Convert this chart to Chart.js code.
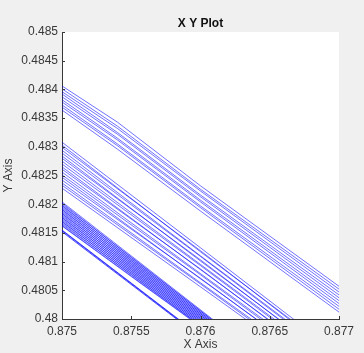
<!DOCTYPE html>
<html>
<head>
<meta charset="utf-8">
<script src="https://cdn.jsdelivr.net/npm/chart.js@4.4.0/dist/chart.umd.min.js"></script>
<style>
  html, body { margin: 0; padding: 0; background: #f0f0f0; }
</style>
</head>
<body>
<canvas id="plot" width="364" height="353"></canvas>
<script>
// tick labels
const xTicks = [0.875, 0.8755, 0.876, 0.8765, 0.877];
const xTickLabels = ['0.875', '0.8755', '0.876', '0.8765', '0.877'];
const yTicks = [0.48, 0.4805, 0.481, 0.4815, 0.482, 0.4825, 0.483, 0.4835, 0.484, 0.4845, 0.485];
const yTickLabels = ['0.48', '0.4805', '0.481', '0.4815', '0.482', '0.4825', '0.483', '0.4835', '0.484', '0.4845', '0.485'];

// upper bundle (10 lines), y at each x
const groupAX = [0.875, 0.8754, 0.876, 0.877];
const groupAStart = [0.48406, 0.48401, 0.48396, 0.48392, 0.48387, 0.48382, 0.48378, 0.48373, 0.48369, 0.48364];
const groupABend = [0.48343, 0.48336, 0.48332, 0.48325, 0.48322, 0.48315, 0.48312, 0.48305, 0.48302, 0.48296];
const groupAMid = [0.48232, 0.48226, 0.48223, 0.48216, 0.48213, 0.48207, 0.48204, 0.48197, 0.48194, 0.48188];
const groupAEnd = [0.48057, 0.48052, 0.48047, 0.48042, 0.48037, 0.48032, 0.48027, 0.48022, 0.48017, 0.48012];

// middle bundle (18 lines)
const groupBX = [0.875, 0.876, 0.877];
const groupBStart = [0.48308, 0.48303, 0.48299, 0.48294, 0.48289, 0.48284, 0.48280, 0.48275, 0.48270,
                     0.48265, 0.48261, 0.48256, 0.48251, 0.48247, 0.48242, 0.48237, 0.48233, 0.48228];
const groupBMid = [0.48124, 0.48117, 0.48119, 0.48110, 0.48109, 0.48101, 0.48103, 0.48095, 0.48093,
                   0.48086, 0.48087, 0.48079, 0.48077, 0.48070, 0.48071, 0.48063, 0.48061, 0.48056];
const groupBEnd = [0.47939, 0.47936, 0.47932, 0.47929, 0.47926, 0.47922, 0.47919, 0.47916, 0.47913,
                   0.47909, 0.47906, 0.47903, 0.47899, 0.47896, 0.47893, 0.47890, 0.47886, 0.47883];

// lower dense bundle (25 lines)
const groupCX = [0.875, 0.8755, 0.8765];
const groupCStart = [0.48204, 0.48202, 0.48200, 0.48198, 0.48197, 0.48195, 0.48193, 0.48191, 0.48190,
                     0.48188, 0.48186, 0.48184, 0.48183, 0.48181, 0.48179, 0.48177, 0.48176, 0.48174,
                     0.48172, 0.48170, 0.48169, 0.48167, 0.48165, 0.48163, 0.48162];
const groupCMid = [0.48110, 0.48107, 0.48108, 0.48104, 0.48105, 0.48101, 0.48102, 0.48098, 0.48099,
                   0.48095, 0.48096, 0.48092, 0.48093, 0.48089, 0.48090, 0.48086, 0.48087, 0.48083,
                   0.48084, 0.48080, 0.48081, 0.48077, 0.48078, 0.48075, 0.48074];
const groupCEnd = [0.47922, 0.47921, 0.47920, 0.47919, 0.47918, 0.47917, 0.47916, 0.47915, 0.47914,
                   0.47913, 0.47912, 0.47911, 0.47910, 0.47909, 0.47908, 0.47907, 0.47906, 0.47905,
                   0.47904, 0.47903, 0.47902, 0.47901, 0.47900, 0.47900, 0.47899];

// bottom heavy line (overlapping traces)
const thickX = [0.875, 0.8765];
const thickStart = [0.48155, 0.48154, 0.48152];
const thickEnd = [0.47878, 0.47877, 0.47876];

const axisColor = '#383838';
const fontFamily = '"Liberation Sans", Helvetica, Arial, sans-serif';

function bundle(xs, cols, width) {
  return cols[0].map((_, i) => ({
    data: xs.map((x, k) => ({ x: x, y: cols[k][i] })),
    borderColor: 'rgba(0,0,255,0.7)',
    borderWidth: width,
    pointRadius: 0,
    fill: false
  }));
}

const datasets = [].concat(
  bundle(groupAX, [groupAStart, groupABend, groupAMid, groupAEnd], 0.8),
  bundle(groupBX, [groupBStart, groupBMid, groupBEnd], 0.8),
  bundle(groupCX, [groupCStart, groupCMid, groupCEnd], 0.8),
  bundle(thickX, [thickStart, thickEnd], 1)
);

const frame = {
  id: 'frame',
  beforeDraw(chart) {
    const ctx = chart.ctx, a = chart.chartArea;
    ctx.save();
    ctx.fillStyle = '#f0f0f0';
    ctx.fillRect(0, 0, chart.width, chart.height);
    ctx.fillStyle = '#ffffff';
    ctx.fillRect(a.left, a.top, a.right - a.left, a.bottom - a.top);
    ctx.restore();
  },
  afterDraw(chart) {
    const ctx = chart.ctx, a = chart.chartArea;
    const xs = chart.scales.x, ys = chart.scales.y;
    ctx.save();
    ctx.strokeStyle = axisColor;
    ctx.lineWidth = 1;
    ctx.beginPath();
    xTicks.forEach(v => {
      const p = Math.round(xs.getPixelForValue(v)) + 0.5;
      ctx.moveTo(p, a.bottom);
      ctx.lineTo(p, a.bottom - 3);
    });
    yTicks.forEach(v => {
      const p = Math.round(ys.getPixelForValue(v)) + 0.5;
      ctx.moveTo(a.left, p);
      ctx.lineTo(a.left + 3, p);
    });
    ctx.stroke();
    // title over the plot box
    ctx.fillStyle = '#111';
    ctx.font = 'bold 12px ' + fontFamily;
    ctx.textAlign = 'center';
    ctx.textBaseline = 'middle';
    ctx.fillText('X Y Plot', (a.left + a.right) / 2, 24);
    ctx.restore();
  }
};

new Chart(document.getElementById('plot'), {
  type: 'line',
  data: { datasets: datasets },
  options: {
    responsive: false,
    animation: false,
    layout: { padding: { top: 32, right: 25, left: 0, bottom: 0 } },
    plugins: { legend: { display: false }, tooltip: { enabled: false } },
    scales: {
      x: {
        type: 'linear',
        min: 0.875,
        max: 0.877,
        afterBuildTicks: s => { s.ticks = xTicks.map(v => ({ value: v })); },
        afterFit: s => { s.height = 34; },
        grid: { display: true, drawOnChartArea: false, drawTicks: false },
        border: { display: true, color: axisColor, width: 1 },
        ticks: {
          padding: 5,
          maxRotation: 0,
          color: axisColor,
          font: { family: fontFamily, size: 12 },
          callback: (v) => xTickLabels[xTicks.indexOf(v)] ?? ''
        },
        title: {
          display: true,
          text: 'X Axis',
          color: axisColor,
          font: { family: fontFamily, size: 12 },
          padding: { top: 0, bottom: 1 }
        }
      },
      y: {
        type: 'linear',
        min: 0.48,
        max: 0.485,
        afterBuildTicks: s => { s.ticks = yTicks.map(v => ({ value: v })); },
        afterFit: s => { s.width = 62; },
        grid: { display: true, drawOnChartArea: false, drawTicks: false },
        border: { display: true, color: axisColor, width: 1 },
        ticks: {
          padding: 4,
          color: axisColor,
          font: { family: fontFamily, size: 12 },
          callback: (v) => yTickLabels[yTicks.indexOf(v)] ?? ''
        },
        title: {
          display: true,
          text: 'Y Axis',
          color: axisColor,
          font: { family: fontFamily, size: 12 },
          padding: { top: 1, bottom: 0 }
        }
      }
    }
  },
  plugins: [frame]
});
</script>
</body>
</html>
